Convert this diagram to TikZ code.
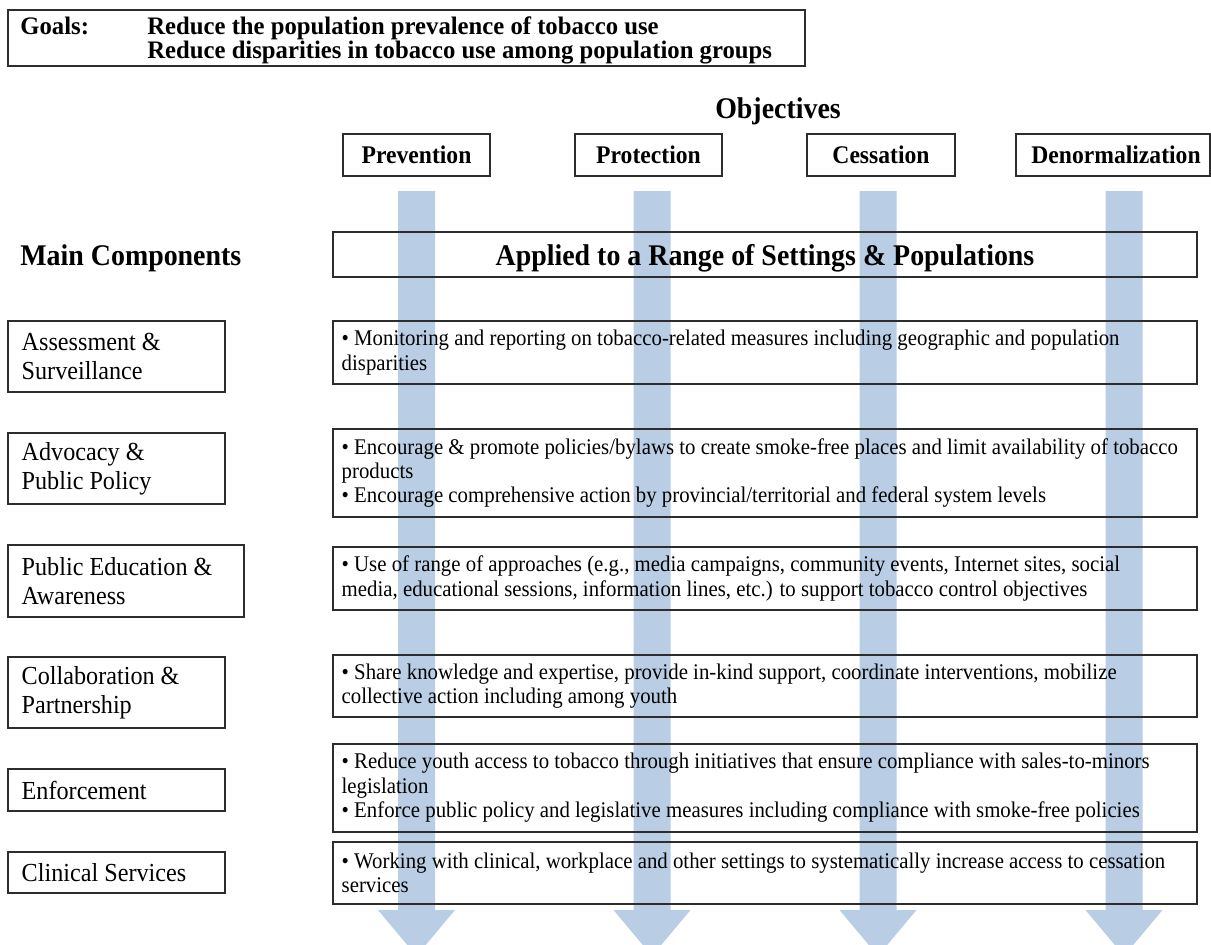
\documentclass[tikz,border=0pt]{standalone}
\usepackage{fontspec}
\setmainfont{Liberation Serif}[FakeStretch=0.93]
\newfontfamily\goalfamily{Liberation Serif}[FakeStretch=0.98]
\usetikzlibrary{fit}
\definecolor{shaftblue}{RGB}{185,205,229}
\definecolor{framegray}{RGB}{45,45,45}
\begin{document}
\begin{tikzpicture}[x=0.5pt,y=-0.5pt]
\tikzset{
  frame/.style={draw=framegray, line width=0.7pt, inner sep=0pt},
  txt/.style={inner sep=0pt, text=black},
  goalfont/.style={txt, anchor=base west, font=\goalfamily\fontsize{12.6}{15}\selectfont\bfseries},
  headfont/.style={txt, font=\fontsize{15}{18}\selectfont\bfseries},
  objfont/.style={txt, font=\fontsize{12.7}{15}\selectfont\bfseries},
  comptext/.style={txt, align=left, anchor=west, xshift=7pt, font=\fontsize{13}{14.6}\selectfont},
  bullettext/.style={txt, align=left, anchor=west, xshift=4.5pt, font=\fontsize{11.2}{12.2}\selectfont},
  shaft/.style={fill=shaftblue, draw=none},
}
\useasboundingbox (0,0) rectangle (1211,944);
\clip (0,0) rectangle (1211,944);

% vertical objective arrows, drawn first so that frames and text lie on top
\foreach \cx/\nm in {416.5/prevarrow, 652/protarrow, 878/cessarrow, 1124/denarrow}{
  \coordinate (\nm) at (\cx,191);
  \fill[shaft] (\nm) ++(-18.5,0) -- ++(37,0) -- ++(0,719) -- ++(20,0)
     -- ++(-38.5,46) -- ++(-38.5,-46) -- ++(20,0) -- cycle;
}

% goals
\node[frame, fit={(8,10)(805,66)}] (goalbox) {};
\node[goalfont] (goalslabel) at (20,34) {Goals:};
\node[goalfont] (goal1) at (147,34) {Reduce the population prevalence of tobacco use};
\node[goalfont] (goal2) at (147,58) {Reduce disparities in tobacco use among population groups};

% objectives
\node[headfont] (objectives) at (778,111) {Objectives};
\node[frame, fit={(343,134)(490,176)}] (prev) {};
\node[objfont] (prevlabel) at (prev.center) {Prevention};
\node[frame, fit={(575,134)(722,176)}] (prot) {};
\node[objfont] (protlabel) at (prot.center) {Protection};
\node[frame, fit={(807,134)(955,176)}] (cess) {};
\node[objfont] (cesslabel) at (cess.center) {Cessation};
\node[frame, fit={(1016,134)(1210,176)}] (denorm) {};
\node[objfont] (denormlabel) at ([xshift=1.5pt]denorm.center) {Denormalization};

% headings of the two columns
\node[headfont, anchor=base west] (maincomp) at (20,265) {Main Components};
\node[frame, fit={(333,232)(1197,277)}] (applied) {};
\node[headfont, anchor=base] (appliedlabel) at (765,265) {Applied to a Range of Settings \& Populations};

% main components
\node[frame, fit={(8,321)(225,392)}] (c1) {};
\node[comptext] (c1t) at (c1.west) {Assessment \&\\Surveillance};
\node[frame, fit={(8,433)(225,504)}] (c2) {};
\node[comptext] (c2t) at (c2.west) {Advocacy \&\\Public Policy};
\node[frame, fit={(8,545)(244,617)}] (c3) {};
\node[comptext] (c3t) at (c3.west) {Public Education \&\\Awareness};
\node[frame, fit={(8,657)(225,728)}] (c4) {};
\node[comptext] (c4t) at (c4.west) {Collaboration \&\\Partnership};
\node[frame, fit={(8,769)(225,811)}] (c5) {};
\node[comptext] (c5t) at (c5.west) {Enforcement};
\node[frame, fit={(8,852)(225,893)}] (c6) {};
\node[comptext] (c6t) at (c6.west) {Clinical Services};

% activities
\node[frame, fit={(333,321)(1197,384)}] (r1) {};
\node[bullettext] (r1t) at (r1.west) {• Monitoring and reporting on tobacco-related measures including geographic and population\\disparities};
\node[frame, fit={(333,429)(1197,517)}] (r2) {};
\node[bullettext] (r2t) at (r2.west) {• Encourage \& promote policies/bylaws to create smoke-free places and limit availability of tobacco\\products\\• Encourage comprehensive action by provincial/territorial and federal system levels};
\node[frame, fit={(333,547)(1197,610)}] (r3) {};
\node[bullettext] (r3t) at (r3.west) {• Use of range of approaches (e.g., media campaigns, community events, Internet sites, social\\media, educational sessions, information lines, etc.) to support tobacco control objectives};
\node[frame, fit={(333,655)(1197,717)}] (r4) {};
\node[bullettext] (r4t) at (r4.west) {• Share knowledge and expertise, provide in-kind support, coordinate interventions, mobilize\\collective action including among youth};
\node[frame, fit={(333,744)(1197,832)}] (r5) {};
\node[bullettext] (r5t) at (r5.west) {• Reduce youth access to tobacco through initiatives that ensure compliance with sales-to-minors\\legislation\\• Enforce public policy and legislative measures including compliance with smoke-free policies};
\node[frame, fit={(333,842)(1197,904)}] (r6) {};
\node[bullettext] (r6t) at (r6.west) {• Working with clinical, workplace and other settings to systematically increase access to cessation\\services};
\end{tikzpicture}
\end{document}
